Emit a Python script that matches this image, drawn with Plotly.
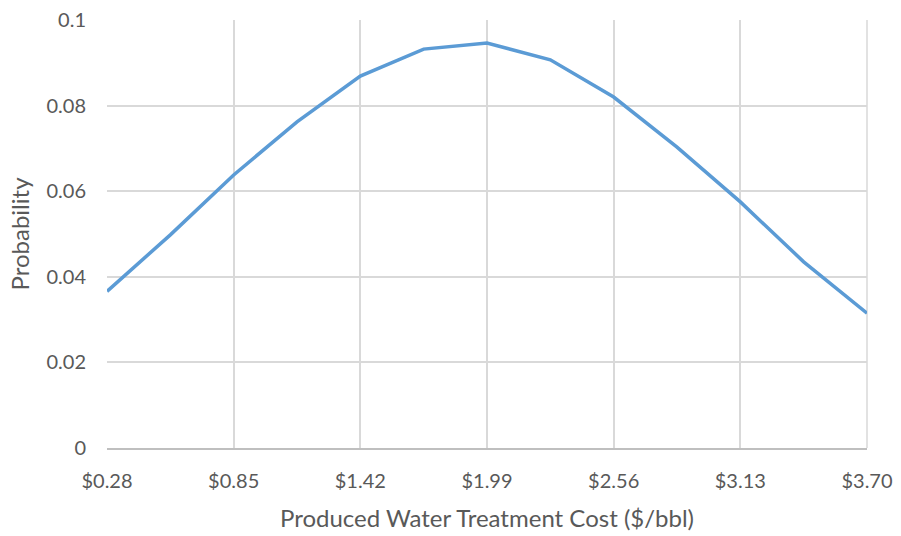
import plotly.graph_objects as go

# Treatment cost bins ($/bbl) and their probabilities
cost = [0.28, 0.565, 0.85, 1.135, 1.42, 1.705, 1.99, 2.275, 2.56, 2.845, 3.13, 3.415, 3.70]
probability = [0.0366, 0.0498, 0.0638, 0.0762, 0.0869, 0.0932, 0.0946,
               0.0907, 0.0820, 0.0703, 0.0575, 0.0435, 0.0315]

# Axis ticks
x_tick_vals = [0.28, 0.85, 1.42, 1.99, 2.56, 3.13, 3.70]
x_tick_text = ["$0.28", "$0.85", "$1.42", "$1.99", "$2.56", "$3.13", "$3.70"]
y_tick_vals = [0, 0.02, 0.04, 0.06, 0.08, 0.1]
y_tick_text = ["0", "0.02", "0.04", "0.06", "0.08", "0.1"]

FONT = "Lato"
GREY = "#595959"
GRID = "#D9D9D9"

fig = go.Figure(
    go.Scatter(
        x=cost,
        y=probability,
        mode="lines",
        line=dict(color="#5B9BD5", width=3.5),
        hoverinfo="x+y",
    )
)

fig.update_layout(
    width=901,
    height=536,
    margin=dict(l=107, r=34, t=20, b=88),
    paper_bgcolor="white",
    plot_bgcolor="white",
    showlegend=False,
    font=dict(family=FONT, color=GREY, size=20),
)

fig.update_xaxes(
    range=[0.28, 3.70],
    tickmode="array",
    tickvals=x_tick_vals,
    ticktext=x_tick_text,
    showgrid=True,
    gridcolor=GRID,
    gridwidth=1.5,
    showline=True,
    linecolor="#BFBFBF",
    linewidth=1.5,
    mirror=False,
    ticks="",
    automargin=False,
    ticklabelstandoff=14,
    tickfont=dict(size=20, color=GREY, family=FONT),
    title=dict(text="Produced Water Treatment Cost ($/bbl)",
               font=dict(size=24, color=GREY, family=FONT), standoff=19),
    zeroline=False,
)

fig.update_yaxes(
    range=[0, 0.1],
    tickmode="array",
    tickvals=y_tick_vals,
    ticktext=y_tick_text,
    showgrid=True,
    gridcolor=GRID,
    gridwidth=1.5,
    showline=False,
    ticks="",
    automargin=False,
    ticklabelstandoff=20,
    tickfont=dict(size=20, color=GREY, family=FONT),
    title=dict(text="Probability", font=dict(size=24, color=GREY, family=FONT), standoff=10),
    zeroline=False,
)

# Right-hand border of the plot area, drawn as a vertical grid edge
fig.add_shape(type="line", xref="paper", yref="paper", x0=1, x1=1, y0=0, y1=1,
              line=dict(color=GRID, width=1.5), layer="below")

fig.write_html("out.html")
